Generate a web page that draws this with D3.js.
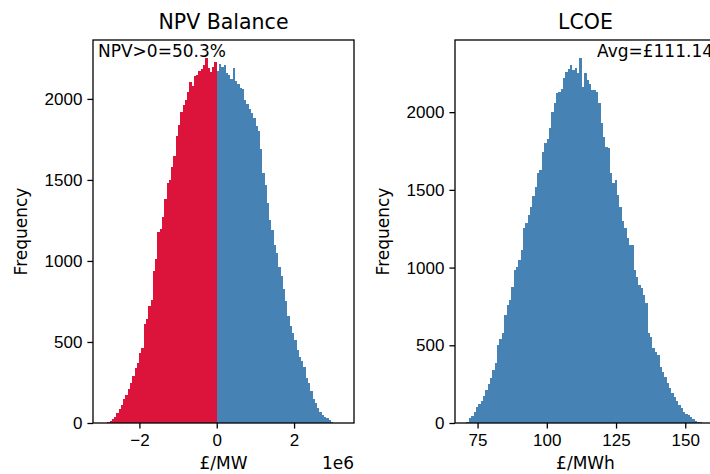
<!DOCTYPE html>
<meta charset="utf-8">
<style>
  body { margin: 0; background: #fff; }
  svg { font-family: "DejaVu Sans", sans-serif; }
  .axis path, .axis line { stroke: #000; stroke-width: 1.3px; }
  .axis text { font-size: 17px; fill: #000; }
</style>
<svg width="710" height="474"></svg>
<script src="https://cdnjs.cloudflare.com/ajax/libs/d3/7.8.5/d3.min.js"></script>
<script>
// NPV histogram: 100 bins, first edge and bin width in £/MW
var npvStart = -2.832e6, npvWidth = 0.059e6;
var npvCounts = [
  4, 12, 25, 38, 62, 85, 110, 148, 175, 210,
  247, 290, 340, 370, 430, 460, 610, 640, 720, 760,
  940, 1010, 1180, 1200, 1270, 1380, 1480, 1500, 1580, 1650,
  1770, 1840, 1920, 1960, 1995, 2040, 2105, 2080, 2140, 2150,
  2170, 2185, 2210, 2251, 2190, 2165, 2200, 2230, 2170, 2215,
  2200, 2210, 2160, 2150, 2120, 2190, 2110, 2095, 2070, 2060,
  1995, 1970, 1935, 1910, 1885, 1830, 1800, 1690, 1540, 1470,
  1360, 1250, 1190, 1100, 1050, 960, 905, 830, 750, 660,
  600, 555, 510, 450, 410, 380, 348, 280, 247, 200,
  150, 125, 95, 70, 50, 35, 28, 18, 9, 3
];
var npvLabel = "NPV>0=50.3%";

// LCOE histogram: 100 bins, first edge and bin width in £/MWh
var lcoeStart = 71.0, lcoeWidth = 0.85;
var lcoeCounts = [
  8, 30, 45, 73, 100, 125, 140, 175, 212, 250,
  288, 340, 384, 502, 540, 577, 695, 759, 790, 877,
  985, 1006, 1050, 1113, 1253, 1290, 1338, 1392, 1460, 1521,
  1607, 1628, 1746, 1800, 1830, 1896, 2003, 2060, 2122, 2132,
  2150, 2218, 2261, 2280, 2304, 2271, 2283, 2250, 2347, 2164,
  2250, 2207, 2180, 2143, 2140, 2132, 2057, 1929, 1842, 1778,
  1768, 1607, 1542, 1564, 1467, 1392, 1300, 1253, 1188, 1145,
  1145, 985, 941, 890, 867, 824, 770, 577, 555, 481,
  460, 438, 362, 330, 298, 260, 223, 195, 169, 140,
  116, 95, 73, 60, 51, 38, 24, 15, 8, 4
];
var lcoeLabel = "Avg=£111.14";

var yTicks = [0, 500, 1000, 1500, 2000];
var npvTicks = [-2e6, 0, 2e6];
var lcoeTicks = [75, 100, 125, 150];

var svg = d3.select("svg");
var plotTop = 40, plotBottom = 423, plotW = 261;

function minus(s) { return String(s).replace("-", "\u2212"); }

function panel(left, counts, start, width, xDomain, xTicks, xFmt, colorFn, title, xLabel, note, noteX) {
  var bins = counts.map(function(c, i) {
    return { x0: start + i * width, x1: start + (i + 1) * width, n: c };
  });
  var x = d3.scaleLinear().domain(xDomain).range([left, left + plotW]);
  var ymax = d3.max(counts) * 1.05;
  var y = d3.scaleLinear().domain([0, ymax]).range([plotBottom, plotTop]);

  var clipId = "clip" + Math.round(left);
  svg.append("clipPath").attr("id", clipId)
    .append("rect").attr("x", left).attr("y", plotTop).attr("width", plotW).attr("height", plotBottom - plotTop);

  svg.append("g").attr("clip-path", "url(#" + clipId + ")")
    .attr("shape-rendering", "crispEdges")
    .selectAll("rect").data(bins).enter().append("rect")
    .attr("x", function(d) { return x(d.x0); })
    .attr("y", function(d) { return y(d.n); })
    .attr("width", function(d) { return x(d.x1) - x(d.x0); })
    .attr("height", function(d) { return y(0) - y(d.n); })
    .attr("fill", colorFn);

  // frame
  svg.append("rect")
    .attr("x", left).attr("y", plotTop).attr("width", plotW).attr("height", plotBottom - plotTop)
    .attr("fill", "none").attr("stroke", "#000").attr("stroke-width", 1.3);

  svg.append("g").attr("class", "axis")
    .attr("transform", "translate(0," + plotBottom + ")")
    .call(d3.axisBottom(x).tickValues(xTicks).tickFormat(xFmt).tickSizeOuter(0).tickSize(5.6).tickPadding(5))
    .call(function(g) { g.select(".domain").remove(); });

  svg.append("g").attr("class", "axis")
    .attr("transform", "translate(" + left + ",0)")
    .call(d3.axisLeft(y).tickValues(yTicks).tickFormat(d3.format("d")).tickSizeOuter(0).tickSize(5.6).tickPadding(5))
    .call(function(g) { g.select(".domain").remove(); });

  svg.append("text")
    .attr("x", left + plotW / 2).attr("y", 29)
    .attr("text-anchor", "middle")
    .style("font-size", "20.5px")
    .text(title);

  svg.append("text")
    .attr("x", left + plotW / 2).attr("y", 469)
    .attr("text-anchor", "middle")
    .style("font-size", "17px")
    .text(xLabel);

  svg.append("text")
    .attr("transform", "translate(" + (left - 66) + "," + ((plotTop + plotBottom) / 2) + ") rotate(-90)")
    .attr("text-anchor", "middle")
    .style("font-size", "17px")
    .text("Frequency");

  svg.append("text")
    .attr("x", noteX).attr("y", 57)
    .style("font-size", "17px")
    .text(note);

  return x;
}

panel(93, npvCounts, npvStart, npvWidth, [-3.2e6, 3.55e6], npvTicks,
  function(d) { return minus(d / 1e6); },
  function(d) { return d.x0 < 0 ? "crimson" : "steelblue"; },
  "NPV Balance", "£/MW", npvLabel, 98);

// offset label for the NPV axis
svg.append("text")
  .attr("x", 354).attr("y", 469)
  .attr("text-anchor", "end")
  .style("font-size", "17px")
  .text("1e6");

panel(455, lcoeCounts, lcoeStart, lcoeWidth, [66.85, 161.1], lcoeTicks,
  function(d) { return d; },
  function() { return "steelblue"; },
  "LCOE", "£/MWh", lcoeLabel, 597);
</script>
